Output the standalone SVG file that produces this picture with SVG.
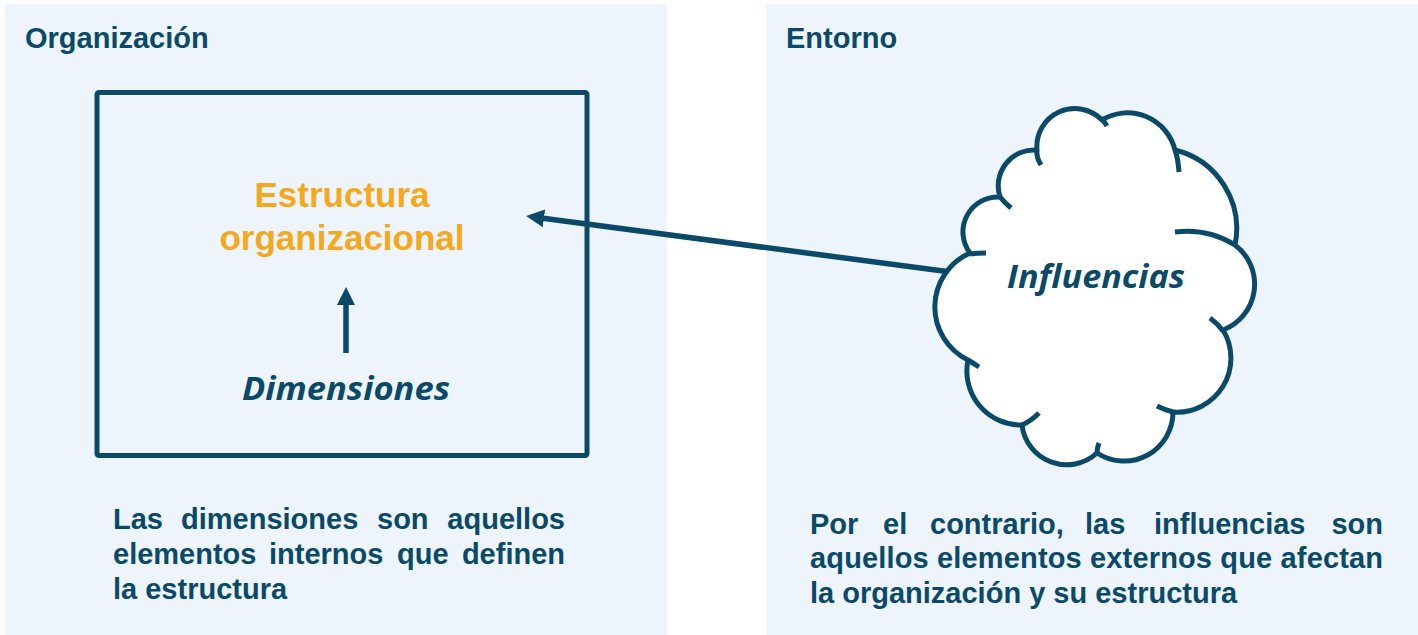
<svg xmlns="http://www.w3.org/2000/svg" width="1418" height="635" viewBox="0 0 1418 635">
  <defs>
    <marker id="head" viewBox="0 0 18 18" markerWidth="18" markerHeight="18" refX="1" refY="9" orient="auto" markerUnits="userSpaceOnUse">
      <path d="M0,0 L18,9 L0,18 Z" fill="#0A4A68"/>
    </marker>
  </defs>
  <style>
    .panel { fill: #EDF4FB; }
    .title { font-family: "Liberation Sans", Arial, sans-serif; font-weight: bold; font-size: 29px; fill: #0A4A68; }
    .body { font-family: "Liberation Sans", Arial, sans-serif; font-weight: bold; font-size: 29px; fill: #0A4A68; }
    .orange { font-family: "Liberation Sans", Arial, sans-serif; font-weight: bold; font-size: 35px; fill: #F5A81C; }
    .ital { font-family: "Open Sans", "Noto Sans", sans-serif; font-weight: bold; font-style: italic; font-size: 32px; fill: #0A4A68; }
    .box { fill: none; stroke: #0A4A68; stroke-width: 5; }
    .cloud { fill: #FFFFFF; stroke: #0A4A68; stroke-width: 5; stroke-linejoin: round; }
    .tail { fill: none; stroke: #0A4A68; stroke-width: 5; }
    .conn { fill: none; stroke: #0A4A68; stroke-width: 5.5; }
  </style>

  <g id="panel-organizacion">
    <rect class="panel" x="5" y="4" width="662" height="631"/>
    <text class="title" x="25" y="48">Organización</text>
  </g>
  <g id="panel-entorno">
    <rect class="panel" x="766" y="4" width="652" height="631"/>
    <text class="title" x="786" y="48">Entorno</text>
  </g>

  <g id="connectors">
    <line class="conn" x1="1000" y1="278.5" x2="543" y2="218.2" marker-end="url(#head)"/>
    <line class="conn" x1="346" y1="353" x2="346" y2="304" marker-end="url(#head)"/>
  </g>

  <g id="node-estructura">
    <rect class="box" x="97" y="92.5" width="490" height="363" rx="2"/>
    <text class="orange" x="342" y="207" text-anchor="middle">Estructura</text>
    <text class="orange" x="342" y="250" text-anchor="middle">organizacional</text>
  </g>

  <g id="node-dimensiones">
    <text class="ital" x="346" y="400" text-anchor="middle" textLength="208" lengthAdjust="spacingAndGlyphs">Dimensiones</text>
  </g>

  <g id="node-influencias">
    <path class="cloud" d="M1037,150 A38,38 0 0 1 1102,120 A49,49 0 0 1 1175,150 A81,81 0 0 1 1235,245 A49,49 0 0 1 1223,330 A54,54 0 0 1 1173,412 A49,49 0 0 1 1097,453 A45,45 0 0 1 1022,425 A54,54 0 0 1 968,360 A59,59 0 0 1 970,253 A35,35 0 0 1 1000,197 A36,36 0 0 1 1037,150 Z"/>
    <path class="tail" d="M1037,150 Q1036,157 1041,165"/>
    <path class="tail" d="M1101,118 Q1104,121 1107,126"/>
    <path class="tail" d="M1175,150 Q1178,158 1179,172"/>
    <path class="tail" d="M1175,232 Q1208,228 1235,245"/>
    <path class="tail" d="M1210,318 Q1218,324 1223,331"/>
    <path class="tail" d="M1173,412 Q1165,410 1157,406"/>
    <path class="tail" d="M1097,453 Q1097,448 1099,443"/>
    <path class="tail" d="M1022,425 Q1031,421 1039,413"/>
    <path class="tail" d="M968,360 Q973,363 979,367"/>
    <path class="tail" d="M970,254 Q977,253 986,253"/>
    <path class="tail" d="M1000,197 Q1004,202 1011,208"/>
    <text class="ital" x="1096" y="288" text-anchor="middle" textLength="178" lengthAdjust="spacingAndGlyphs">Influencias</text>
  </g>

  <g id="text-dimensiones">
    <text class="body" y="529">
      <tspan x="113">Las</tspan><tspan x="181">dimensiones</tspan><tspan x="377">son</tspan><tspan x="565" text-anchor="end">aquellos</tspan>
    </text>
    <text class="body" y="564">
      <tspan x="113">elementos</tspan><tspan x="269">internos</tspan><tspan x="397">que</tspan><tspan x="565" text-anchor="end">definen</tspan>
    </text>
    <text class="body" x="113" y="599">la estructura</text>
  </g>

  <g id="text-influencias">
    <text class="body" y="534">
      <tspan x="810">Por</tspan><tspan x="883">el</tspan><tspan x="930">contrario,</tspan><tspan x="1085">las</tspan><tspan x="1154">influencias</tspan><tspan x="1383" text-anchor="end">son</tspan>
    </text>
    <text class="body" x="810" y="568" textLength="573" lengthAdjust="spacing">aquellos elementos externos que afectan</text>
    <text class="body" x="810" y="603">la organización y su estructura</text>
  </g>
</svg>
